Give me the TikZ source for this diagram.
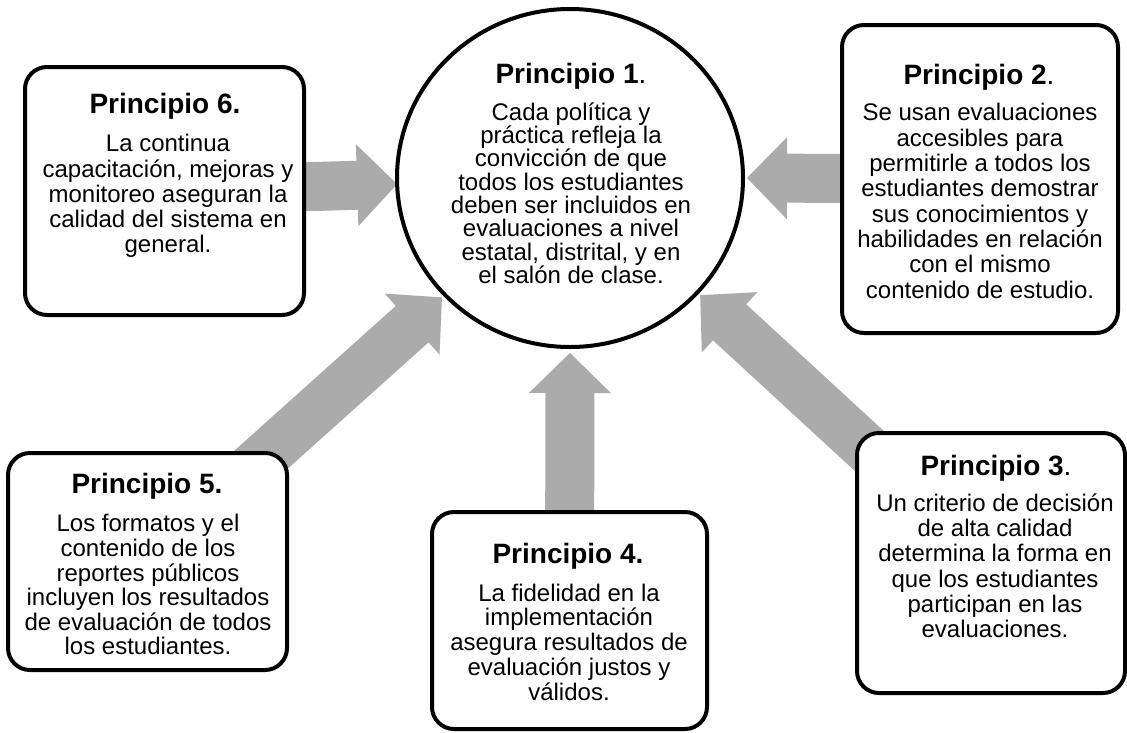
\documentclass[tikz,border=0pt]{standalone}
\usepackage{fontspec}
\setmainfont{Liberation Sans}
\usetikzlibrary{calc,shapes.geometric,backgrounds}
\definecolor{arrowgray}{RGB}{171,171,171}
\newcommand\bfnt[1]{\fontsize{24}{#1}\selectfont\lineskiplimit=-10pt\relax}
\newcommand\blockarrow[2]{%
  \coordinate (hb) at ($(#2.center)!40pt!(#1.center)$);
  \fill[arrowgray] ($(#1.center)!24.5pt!90:(#2.center)$) -- ($(hb)!24.5pt!90:(#2.center)$)
    -- ($(hb)!41pt!90:(#2.center)$) -- (#2.center) -- ($(hb)!41pt!-90:(#2.center)$)
    -- ($(hb)!24.5pt!-90:(#2.center)$) -- ($(#1.center)!24.5pt!-90:(#2.center)$) -- cycle;}
\begin{document}
\begin{tikzpicture}[x=1pt,y=-1pt,
  box/.style={draw=black, line width=4pt, rounded corners=22pt, fill=white, inner sep=0pt, outer sep=0pt},
  oval/.style={draw=black, ellipse, line width=4pt, fill=white, inner sep=0pt, outer sep=0pt},
  ttl/.style={anchor=base, inner sep=0pt, font=\fontsize{28}{30}\selectfont},
  bdy/.style={anchor=north, inner sep=0pt, align=center, font={\bfnt{#1}}},
  bdy/.default=24.5]
\useasboundingbox (0,0) rectangle (1127,732);
% shapes
\node[oval, minimum width=346pt, minimum height=338pt] (p1) at (570,178) {};
\node[box, minimum width=276pt, minimum height=308pt] (p2) at (980,179) {};
\node[box, minimum width=268pt, minimum height=260pt] (p3) at (991,563) {};
\node[box, minimum width=275pt, minimum height=217pt] (p4) at (569.5,620.5) {};
\node[box, minimum width=279pt, minimum height=217pt] (p5) at (147.5,561.5) {};
\node[box, minimum width=279pt, minimum height=248pt] (p6) at (164.5,191) {};
% arrow tips
\coordinate (e6) at (p1.182);
\coordinate (e2) at ($(p1.0)!-4pt!(p1.center)$);
\coordinate (e4) at ($(p1.270)!-6pt!(p1.center)$);
\coordinate (e5) at ($(p1.223)!-4pt!(p1.center)$);
\coordinate (e3) at ($(p1.318)!-4pt!(p1.center)$);
\begin{pgfonlayer}{background}
\blockarrow{p6}{e6}
\blockarrow{p2}{e2}
\blockarrow{p4}{e4}
\blockarrow{p5}{e5}
\blockarrow{p3}{e3}
\end{pgfonlayer}
% texts
\node[ttl] (t1) at (571,83) {\textbf{Principio 1}.};
\node[bdy=23.3] (b1) at (571,100) {\rule{0pt}{20pt}Cada política y\\práctica refleja la\\convicción de que\\todos los estudiantes\\deben ser incluidos en\\evaluaciones a nivel\\estatal, distrital, y en\\el salón de clase.};
\node[ttl] (t2) at (979,84) {\textbf{Principio 2}.};
\node[bdy=25.3] (b2) at (980,100.7) {\rule{0pt}{20pt}Se usan evaluaciones\\accesibles para\\permitirle a todos los\\estudiantes demostrar\\sus conocimientos y\\habilidades en relación\\con el mismo\\contenido de estudio.};
\node[ttl] (t3) at (996,475) {\textbf{Principio 3}.};
\node[bdy=25.2] (b3) at (995,491.3) {\rule{0pt}{20pt}Un criterio de decisión\\de alta calidad\\determina la forma en\\que los estudiantes\\participan en las\\evaluaciones.};
\node[ttl] (t4) at (568,563.3) {\textbf{Principio 4.}};
\node[bdy=24.75] (b4) at (569,581) {\rule{0pt}{20pt}La fidelidad en la\\implementación\\asegura resultados de\\evaluación justos y\\válidos.};
\node[ttl] (t5) at (147,493.3) {\textbf{Principio 5.}};
\node[bdy=24.6] (b5) at (148,511.7) {\rule{0pt}{20pt}Los formatos y el\\contenido de los\\reportes públicos\\incluyen los resultados\\de evaluación de todos\\los estudiantes.};
\node[ttl] (t6) at (165,113) {\textbf{Principio 6.}};
\node[bdy=25.25] (b6) at (168,131.7) {\rule{0pt}{20pt}La continua\\capacitación, mejoras y\\monitoreo aseguran la\\calidad del sistema en\\general.};
\end{tikzpicture}
\end{document}
